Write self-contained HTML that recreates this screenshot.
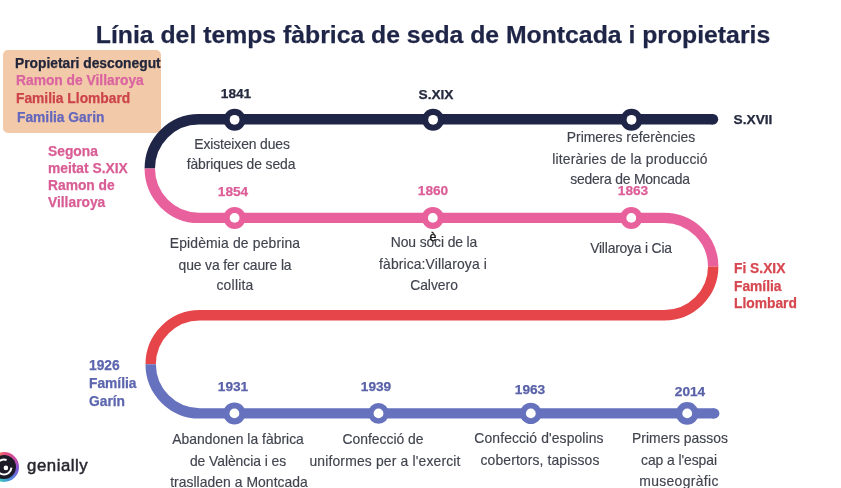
<!DOCTYPE html>
<html><head><meta charset="utf-8"><style>
html,body{margin:0;padding:0;}
body{width:841px;height:488px;position:relative;overflow:hidden;background:#fff;font-family:"Liberation Sans",sans-serif;}
.t{position:absolute;white-space:nowrap;line-height:0;will-change:transform;}
.legend{position:absolute;left:3px;top:49.5px;width:157.5px;height:83px;background:#f3caa9;border-radius:5px;}
svg.main{position:absolute;left:0;top:0;}
.gen{position:absolute;left:27px;top:470px;}
</style></head><body>
<div class="legend"></div>
<svg class="main" width="841" height="488" viewBox="0 0 841 488">
<path d="M713 119.3 L198.8 119.3 A49 49.300000000000004 0 0 0 149.8 168.6" stroke="#1f2547" stroke-width="10.4" fill="none" stroke-linecap="butt"/>
<circle cx="713" cy="119.3" r="5.2" fill="#1f2547"/>
<path d="M149.8 168.6 A49 49.300000000000004 0 0 0 198.8 217.9 L664.2 217.9 A49 48.7 0 0 1 713.2 266.6" stroke="#e8609c" stroke-width="10.4" fill="none"/>
<path d="M713.2 266.6 A49 48.7 0 0 1 664.2 315.3 L199.7 315.3 A49 49.04999999999998 0 0 0 150.7 364.35" stroke="#e6464a" stroke-width="10.4" fill="none"/>
<path d="M150.7 364.35 A49 49.04999999999998 0 0 0 199.7 413.4 L714.2 413.4" stroke="#6672bd" stroke-width="10.4" fill="none"/>
<circle cx="714.2" cy="413.4" r="5.2" fill="#6672bd"/>
<circle cx="234.6" cy="119.8" r="11" fill="#1f2547"/><circle cx="234.6" cy="119.8" r="4.9" fill="#fff"/>
<circle cx="433.1" cy="119.8" r="11" fill="#1f2547"/><circle cx="433.1" cy="119.8" r="4.9" fill="#fff"/>
<circle cx="631.5" cy="119.8" r="11" fill="#1f2547"/><circle cx="631.5" cy="119.8" r="4.9" fill="#fff"/>
<circle cx="234.6" cy="217.9" r="11" fill="#e8609c"/><circle cx="234.6" cy="217.9" r="4.9" fill="#fff"/>
<circle cx="432.8" cy="217.9" r="11" fill="#e8609c"/><circle cx="432.8" cy="217.9" r="4.9" fill="#fff"/>
<circle cx="631.3" cy="217.9" r="11" fill="#e8609c"/><circle cx="631.3" cy="217.9" r="4.9" fill="#fff"/>
<circle cx="234.4" cy="413.4" r="11" fill="#6672bd"/><circle cx="234.4" cy="413.4" r="4.9" fill="#fff"/>
<circle cx="378.5" cy="413.4" r="10.4" fill="#6672bd"/><circle cx="378.5" cy="413.4" r="4.9" fill="#fff"/>
<circle cx="530.8" cy="413.4" r="10.7" fill="#6672bd"/><circle cx="530.8" cy="413.4" r="4.9" fill="#fff"/>
<circle cx="687.2" cy="413.4" r="11.3" fill="#6672bd"/><circle cx="687.2" cy="413.4" r="4.9" fill="#fff"/>
</svg>
<div class="t" style="left:433.2px;top:35.21px;font-size:24.78px;color:#1f2547;font-weight:700;transform:translateX(-50%);-webkit-text-stroke:0.25px currentColor;">Línia del temps fàbrica de seda de Montcada i propietaris</div>
<div class="t" style="left:14.6px;top:63.82px;font-size:13.8px;color:#22263a;font-weight:700;-webkit-text-stroke:0.25px currentColor;">Propietari desconegut</div>
<div class="t" style="left:16.0px;top:81.02px;font-size:13.8px;color:#da64a0;font-weight:700;-webkit-text-stroke:0.25px currentColor;">Ramon de Villaroya</div>
<div class="t" style="left:16.0px;top:99.02px;font-size:13.8px;color:#cc444b;font-weight:700;-webkit-text-stroke:0.25px currentColor;">Familia Llombard</div>
<div class="t" style="left:16.5px;top:117.62px;font-size:13.8px;color:#6467bc;font-weight:700;-webkit-text-stroke:0.25px currentColor;">Familia Garin</div>
<div class="t" style="left:236.0px;top:93.65px;font-size:13.7px;color:#252a3e;font-weight:700;transform:translateX(-50%);-webkit-text-stroke:0.25px currentColor;">1841</div>
<div class="t" style="left:436.3px;top:95.45px;font-size:13.7px;color:#252a3e;font-weight:700;transform:translateX(-50%);-webkit-text-stroke:0.25px currentColor;">S.XIX</div>
<div class="t" style="left:753.3px;top:120.15px;font-size:13.7px;color:#252a3e;font-weight:700;transform:translateX(-50%);-webkit-text-stroke:0.25px currentColor;">S.XVII</div>
<div class="t" style="left:232.5px;top:191.75px;font-size:13.7px;color:#dc5e98;font-weight:700;transform:translateX(-50%);-webkit-text-stroke:0.25px currentColor;">1854</div>
<div class="t" style="left:433.1px;top:191.25px;font-size:13.7px;color:#dc5e98;font-weight:700;transform:translateX(-50%);-webkit-text-stroke:0.25px currentColor;">1860</div>
<div class="t" style="left:632.9px;top:191.25px;font-size:13.7px;color:#dc5e98;font-weight:700;transform:translateX(-50%);-webkit-text-stroke:0.25px currentColor;">1863</div>
<div class="t" style="left:233.4px;top:387.25px;font-size:13.7px;color:#5961a8;font-weight:700;transform:translateX(-50%);-webkit-text-stroke:0.25px currentColor;">1931</div>
<div class="t" style="left:376.0px;top:387.25px;font-size:13.7px;color:#5961a8;font-weight:700;transform:translateX(-50%);-webkit-text-stroke:0.25px currentColor;">1939</div>
<div class="t" style="left:529.5px;top:390.35px;font-size:13.7px;color:#5961a8;font-weight:700;transform:translateX(-50%);-webkit-text-stroke:0.25px currentColor;">1963</div>
<div class="t" style="left:689.5px;top:392.15px;font-size:13.7px;color:#5961a8;font-weight:700;transform:translateX(-50%);-webkit-text-stroke:0.25px currentColor;">2014</div>
<div class="t" style="left:48.3px;top:151.82px;font-size:13.8px;color:#d95d95;font-weight:700;-webkit-text-stroke:0.25px currentColor;">Segona</div>
<div class="t" style="left:48.3px;top:169.02px;font-size:13.8px;color:#d95d95;font-weight:700;-webkit-text-stroke:0.25px currentColor;">meitat S.XIX</div>
<div class="t" style="left:48.3px;top:186.22px;font-size:13.8px;color:#d95d95;font-weight:700;-webkit-text-stroke:0.25px currentColor;">Ramon de</div>
<div class="t" style="left:48.3px;top:202.62px;font-size:13.8px;color:#d95d95;font-weight:700;-webkit-text-stroke:0.25px currentColor;">Villaroya</div>
<div class="t" style="left:734.2px;top:269.42px;font-size:13.8px;color:#d6474f;font-weight:700;-webkit-text-stroke:0.25px currentColor;">Fi S.XIX</div>
<div class="t" style="left:734.2px;top:286.72px;font-size:13.8px;color:#d6474f;font-weight:700;-webkit-text-stroke:0.25px currentColor;">Família</div>
<div class="t" style="left:734.2px;top:304.12px;font-size:13.8px;color:#d6474f;font-weight:700;-webkit-text-stroke:0.25px currentColor;">Llombard</div>
<div class="t" style="left:88.9px;top:365.62px;font-size:13.8px;color:#5c66ae;font-weight:700;-webkit-text-stroke:0.25px currentColor;">1926</div>
<div class="t" style="left:88.9px;top:384.22px;font-size:13.8px;color:#5c66ae;font-weight:700;-webkit-text-stroke:0.25px currentColor;">Família</div>
<div class="t" style="left:88.9px;top:401.82px;font-size:13.8px;color:#5c66ae;font-weight:700;-webkit-text-stroke:0.25px currentColor;">Garín</div>
<div class="t" style="left:241.5px;top:143.78px;font-size:13.9px;color:#40434e;font-weight:400;transform:translateX(-50%);-webkit-text-stroke:0.15px currentColor;letter-spacing:-0.121px;">Existeixen dues</div>
<div class="t" style="left:241.0px;top:164.48px;font-size:13.9px;color:#40434e;font-weight:400;transform:translateX(-50%);-webkit-text-stroke:0.15px currentColor;letter-spacing:-0.106px;">fàbriques de seda</div>
<div class="t" style="left:630.5px;top:136.58px;font-size:13.9px;color:#40434e;font-weight:400;transform:translateX(-50%);-webkit-text-stroke:0.15px currentColor;letter-spacing:0.021px;">Primeres referències</div>
<div class="t" style="left:630.2px;top:159.08px;font-size:13.9px;color:#40434e;font-weight:400;transform:translateX(-50%);-webkit-text-stroke:0.15px currentColor;letter-spacing:0.188px;">literàries de la producció</div>
<div class="t" style="left:630.0px;top:179.38px;font-size:13.9px;color:#40434e;font-weight:400;transform:translateX(-50%);-webkit-text-stroke:0.15px currentColor;letter-spacing:-0.194px;">sedera de Moncada</div>
<div class="t" style="left:234.7px;top:243.48px;font-size:13.9px;color:#40434e;font-weight:400;transform:translateX(-50%);-webkit-text-stroke:0.15px currentColor;letter-spacing:0.156px;">Epidèmia de pebrina</div>
<div class="t" style="left:234.9px;top:264.88px;font-size:13.9px;color:#40434e;font-weight:400;transform:translateX(-50%);-webkit-text-stroke:0.15px currentColor;letter-spacing:-0.111px;">que va fer caure la</div>
<div class="t" style="left:234.7px;top:285.18px;font-size:13.9px;color:#40434e;font-weight:400;transform:translateX(-50%);-webkit-text-stroke:0.15px currentColor;letter-spacing:0.233px;">collita</div>
<div class="t" style="left:433.5px;top:241.98px;font-size:13.9px;color:#40434e;font-weight:400;transform:translateX(-50%);-webkit-text-stroke:0.15px currentColor;letter-spacing:-0.123px;">Nou soci de la</div>
<div class="t" style="left:433.3px;top:263.78px;font-size:13.9px;color:#40434e;font-weight:400;transform:translateX(-50%);-webkit-text-stroke:0.15px currentColor;letter-spacing:0.122px;">fàbrica:Villaroya i</div>
<div class="t" style="left:433.5px;top:285.08px;font-size:13.9px;color:#40434e;font-weight:400;transform:translateX(-50%);-webkit-text-stroke:0.15px currentColor;letter-spacing:-0.017px;">Calvero</div>
<div class="t" style="left:631.1px;top:248.18px;font-size:13.9px;color:#40434e;font-weight:400;transform:translateX(-50%);-webkit-text-stroke:0.15px currentColor;letter-spacing:-0.2px;">Villaroya i Cia</div>
<div class="t" style="left:238.0px;top:438.68px;font-size:13.9px;color:#40434e;font-weight:400;transform:translateX(-50%);-webkit-text-stroke:0.15px currentColor;letter-spacing:0.021px;">Abandonen la fàbrica</div>
<div class="t" style="left:238.0px;top:461.08px;font-size:13.9px;color:#40434e;font-weight:400;transform:translateX(-50%);-webkit-text-stroke:0.15px currentColor;letter-spacing:-0.053px;">de València i es</div>
<div class="t" style="left:238.5px;top:481.98px;font-size:13.9px;color:#40434e;font-weight:400;transform:translateX(-50%);-webkit-text-stroke:0.15px currentColor;letter-spacing:0.05px;">traslladen a Montcada</div>
<div class="t" style="left:382.9px;top:439.38px;font-size:13.9px;color:#40434e;font-weight:400;transform:translateX(-50%);-webkit-text-stroke:0.15px currentColor;letter-spacing:-0.0px;">Confecció de</div>
<div class="t" style="left:384.7px;top:460.58px;font-size:13.9px;color:#40434e;font-weight:400;transform:translateX(-50%);-webkit-text-stroke:0.15px currentColor;letter-spacing:0.167px;">uniformes per a l'exercit</div>
<div class="t" style="left:539.4px;top:438.18px;font-size:13.9px;color:#40434e;font-weight:400;transform:translateX(-50%);-webkit-text-stroke:0.15px currentColor;letter-spacing:0.116px;">Confecció d'espolins</div>
<div class="t" style="left:539.9px;top:460.08px;font-size:13.9px;color:#40434e;font-weight:400;transform:translateX(-50%);-webkit-text-stroke:0.15px currentColor;letter-spacing:0.128px;">cobertors, tapissos</div>
<div class="t" style="left:679.5px;top:438.18px;font-size:13.9px;color:#40434e;font-weight:400;transform:translateX(-50%);-webkit-text-stroke:0.15px currentColor;letter-spacing:0.015px;">Primers passos</div>
<div class="t" style="left:679.2px;top:460.18px;font-size:13.9px;color:#40434e;font-weight:400;transform:translateX(-50%);-webkit-text-stroke:0.15px currentColor;letter-spacing:-0.067px;">cap a l'espai</div>
<div class="t" style="left:679.2px;top:480.68px;font-size:13.9px;color:#40434e;font-weight:400;transform:translateX(-50%);-webkit-text-stroke:0.15px currentColor;letter-spacing:0.34px;">museogràfic</div>
<div class="t" style="left:433.3px;top:237.27px;font-size:12.5px;color:#151515;font-weight:400;transform:translateX(-50%);-webkit-text-stroke:0.15px currentColor;-webkit-text-stroke:0.35px #151515;">è</div>

<div style="position:absolute;left:-10.6px;top:451.8px;width:30px;height:30px;border-radius:50%;background:conic-gradient(from 0deg,#e8507a 0deg,#c24aa8 60deg,#7c55d6 100deg,#4f86e0 150deg,#3cc0c0 190deg,#52c98a 230deg,#e8d060 280deg,#f2a050 320deg,#e8507a 360deg);filter:blur(0.7px)"></div>
<svg style="position:absolute;left:-11.6px;top:450.9px;filter:blur(0.45px)" width="32" height="32" viewBox="0 0 32 32">
<circle cx="16" cy="16" r="12" fill="#1b1a26"/>
<path d="M18.57 8.95 A7.5 7.5 0 1 0 23.47 16.65" stroke="#fff" stroke-width="2" fill="none"/>
<circle cx="17.9" cy="16.9" r="2.3" fill="#fff"/>
</svg>
<div class="t" style="left:27px;top:465.78px;font-size:16.8px;color:#26262e;font-weight:400;letter-spacing:0.55px;-webkit-text-stroke:0.45px #26262e">genially</div>
</body></html>
